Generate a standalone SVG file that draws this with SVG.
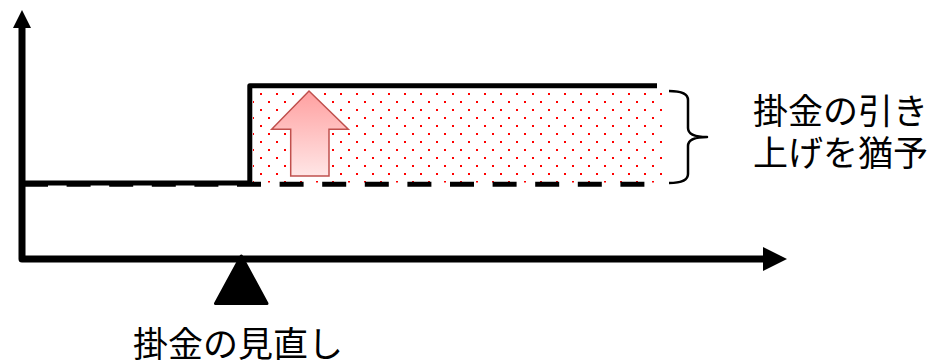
<svg xmlns="http://www.w3.org/2000/svg" width="930" height="363" viewBox="0 0 930 363">
<style>
.t{font-family:"Noto Sans CJK JP","Liberation Sans",sans-serif;font-size:35px;fill:#000}
.ln{fill:none;stroke:#000;stroke-linejoin:round}
</style>
<defs>
<pattern id="dots" patternUnits="userSpaceOnUse" x="260" y="93" width="16" height="16">
<rect x="0" y="0" width="2" height="2" fill="#ff0000"/>
<rect x="8" y="8" width="2" height="2" fill="#ff0000"/>
</pattern>
<linearGradient id="ag" x1="0" y1="0" x2="0" y2="1">
<stop offset="0" stop-color="#ffa0a0"/>
<stop offset="1" stop-color="#ffe6e6"/>
</linearGradient>
</defs>
<g id="fill-area">
<rect x="253" y="88.5" width="410" height="94" fill="#fff"/>
<rect x="253" y="88.5" width="410" height="94" fill="url(#dots)"/>
</g>
<g id="connectors">
<polyline class="ln" points="22,26 22,259 765,259" stroke-width="7"/>
<polygon points="22,10 13,28 31,28" fill="#000"/>
<polygon points="787,259 763,247 763,271" fill="#000"/>
<line x1="24" y1="184.2" x2="645" y2="184.2" stroke="#000" stroke-width="5" stroke-dasharray="24 18.6"/>
<polyline class="ln" points="22,183 249.8,183 249.8,85.8 657,85.8" stroke-width="5"/>
<path class="ln" d="M669,91 Q688,91 688,100 V128 Q688,137 707,137 Q688,137 688,146 V174 Q688,183 669,183" stroke-width="2.5"/>
</g>
<g id="up-arrow">
<polygon points="309,91 348.3,129.3 329,129.3 329,176 290.7,176 290.7,129.3 271.7,129.3" fill="url(#ag)" stroke="#c0504d" stroke-width="1.5" stroke-linejoin="miter"/>
</g>
<g id="fulcrum">
<polygon points="241.3,256 215.5,303.5 267,303.5" fill="#000" stroke="#000" stroke-width="3" stroke-linejoin="round"/>
</g>
<g id="label-right">
<text class="t" x="753" y="124">掛金の引き</text>
<text class="t" x="753" y="166">上げを猶予</text>
</g>
<g id="label-bottom">
<text class="t" x="133" y="357">掛金の見直し</text>
</g>
</svg>
